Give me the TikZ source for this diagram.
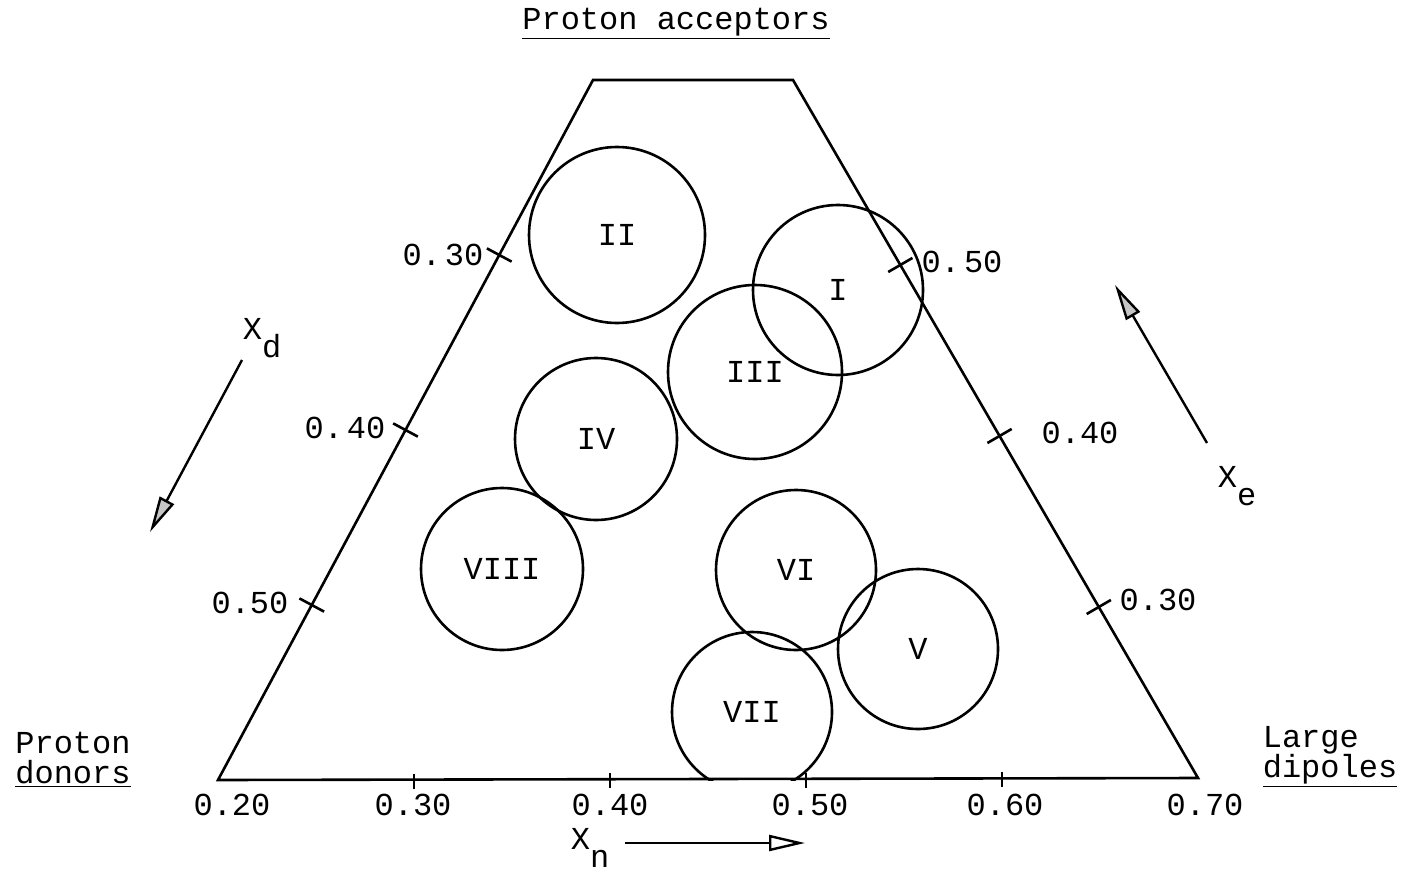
\documentclass[tikz,border=0pt]{standalone}
\usepackage{fontspec}
\setmainfont{Liberation Mono}
\usetikzlibrary{arrows.meta,positioning,calc}
\newcommand{\tw}{\fontsize{16}{21}\selectfont}
\newcommand{\lowsub}[1]{\raisebox{-9pt}{#1}}
\tikzset{
  edge/.style={line width=1.3pt,line join=miter},
  tickmark/.style={line width=1.3pt},
  zone/.style={draw,circle,line width=1.3pt,inner sep=0pt,font=\tw},
  lab/.style={font=\tw,inner sep=1pt},
  ax/.style={line width=1.2pt,-{Triangle[length=18pt,width=8pt,fill=gray!45]}},
  axo/.style={line width=1.2pt,-{Triangle[open,length=18pt,width=8pt]}},
}

\begin{document}
\begin{tikzpicture}[x=0.5pt,y=-0.5pt]
\useasboundingbox (0,0) rectangle (1401,872);
% frame of the truncated triangle
\coordinate (bl) at (218,780);
\coordinate (tl) at (593,80);
\coordinate (tr) at (793,80);
\coordinate (br) at (1198,778);
\draw[edge] (bl) -- (tl) -- (tr) -- (br) -- cycle;
% ticks
\foreach \t/\n in {0.25/l5,0.5/l4,0.75/l3}{
  \coordinate (\n) at ($(bl)!\t!(tl)$);
  \draw[tickmark] ($(\n)!7pt!90:(tl)$) -- ($(\n)!7pt!-90:(tl)$);
}
\foreach \t/\n in {0.245/r3,0.49/r4,0.735/r5}{
  \coordinate (\n) at ($(br)!\t!(tr)$);
  \draw[tickmark] ($(\n)!7pt!90:(tr)$) -- ($(\n)!7pt!-90:(tr)$);
}
\foreach \t/\n in {0.2/b3,0.4/b4,0.6/b5,0.8/b6}{
  \coordinate (\n) at ($(bl)!\t!(br)$);
  \draw[tickmark] ($(\n)+(0,-6)$) -- ($(\n)+(0,9)$);
}
% scale labels
\node[lab] (tl3) at (443,255) {0.\kern2pt30};
\node[lab] (tl4) at (345,428) {0.\kern2pt40};
\node[lab] (tl5) at (250,603) {0.50};
\node[lab] (tr5) at (962,262) {0.\kern2pt50};
\node[lab] (tr4) at (1080,433) {0.40};
\node[lab] (tr3) at (1158,600) {0.30};
\node[lab] (tb2) at (232,805) {0.20};
\node[lab] (tb3) at (413,805) {0.30};
\node[lab] (tb4) at (610,805) {0.40};
\node[lab] (tb5) at (810,805) {0.50};
\node[lab] (tb6) at (1005,805) {0.60};
\node[lab] (tb7) at (1205,805) {0.70};
% corner names
\node[lab] (acc) at (676,24) {\underline{Proton acceptors}};
\node[lab,align=left] (don) at (73,760) {Proton\\[-6pt]\underline{donors}};
\node[lab,align=left] (dip) at (1330,757) {Large\\[-6pt]\underline{dipoles}};
% solvent groups
\node[zone,minimum size=88pt] (g2) at (617,235) {II};
\node[zone,minimum size=85pt] (g1) at (838,290) {I};
\node[zone,minimum size=87pt] (g3) at (755,372) {III};
\node[zone,minimum size=81pt] (g4) at (596,439) {IV};
\node[zone,minimum size=81pt] (g8) at (502,569) {VIII};
\node[zone,minimum size=80pt] (g6) at (796,570) {VI};
\node[zone,minimum size=80pt] (g5) at (918,649) {V};
\begin{scope}
  \clip (0,0) rectangle (1401,780);
  \node[zone,minimum size=80pt] (g7) at (752,712) {VII};
\end{scope}
% axis arrows
\node[lab] (xd) at (262,338) {X\lowsub{d}};
\coordinate (xd0) at (242,360);
\coordinate (xd1) at (150,532);
\draw[ax] (xd0) -- (xd1);
\node[lab] (xe) at (1237,486) {X\lowsub{e}};
\coordinate (xe0) at (1207,443);
\coordinate (xe1) at (1115,285);
\draw[ax] (xe0) -- (xe1);
\node[lab] (xn) at (590,848) {X\lowsub{n}};
\coordinate (xn0) at (625,843);
\coordinate (xn1) at (805,843);
\draw[axo] (xn0) -- (xn1);
\end{tikzpicture}
\end{document}
